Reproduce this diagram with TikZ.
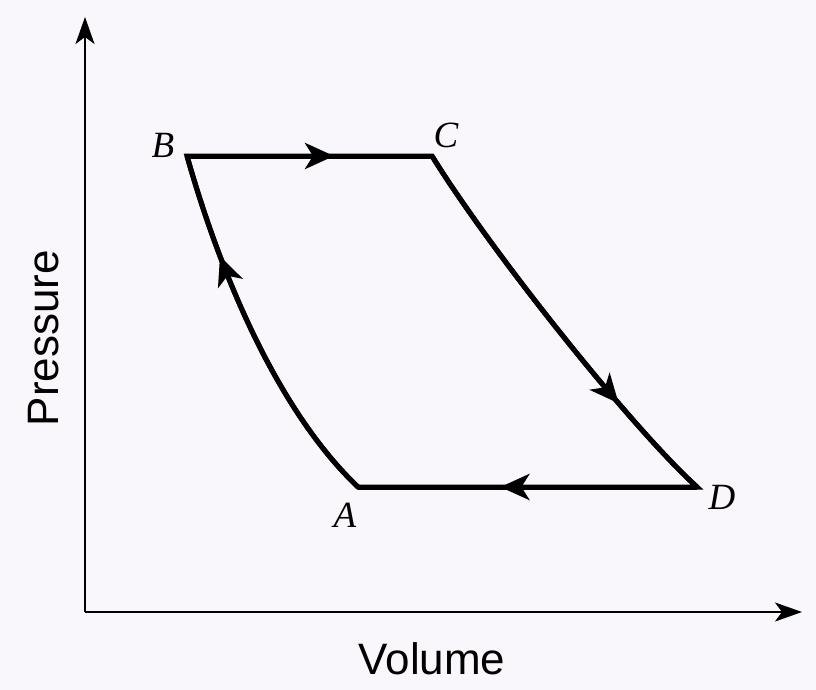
\documentclass[tikz,border=0pt]{standalone}
\usepackage{fontspec}
\setmainfont{Liberation Serif}
\setsansfont{Liberation Sans}
\usetikzlibrary{arrows.meta,decorations.markings}
\definecolor{bgc}{RGB}{249,247,251}
\tikzset{
  cycleline/.style={line width=5pt, black},
  axisline/.style={line width=2pt, black, -{Stealth[length=27pt,width=19pt,inset=7pt]}},
  midarrow/.style={postaction={decorate}, decoration={markings,
      mark=at position #1 with {\arrow{Stealth[length=29pt,width=26pt,inset=8pt]}}}},
  ptlabel/.style={font=\itshape\fontsize{37}{40}\selectfont, inner sep=0pt},
  axlabel/.style={font=\sffamily\fontsize{44}{48}\selectfont, inner sep=0pt}
}
\begin{document}
\begin{tikzpicture}[x=1pt,y=-1pt]
\fill[bgc] (0,0) rectangle (816,690);
\useasboundingbox (0,0) rectangle (816,690);
% axes
\coordinate (O) at (85,612);
\coordinate (Ytop) at (85,17);
\coordinate (Xend) at (802,612);
\draw[axisline] (O) -- (Ytop);
\draw[axisline] (O) -- (Xend);
% cycle points
\coordinate (A) at (358,487);
\coordinate (B) at (187,156);
\coordinate (C) at (432,156);
\coordinate (D) at (697,487);
% closed cycle
\draw[cycleline, line join=miter] (A) .. controls (278,411) and (221,276) .. (B)
  -- (C) .. controls (490,250) and (631,427) .. (D) -- cycle;
% direction arrows
\draw[cycleline, midarrow=0.72] (A) .. controls (278,411) and (221,276) .. (B);
\draw[cycleline, midarrow=0.6] (B) -- (C);
\draw[cycleline, midarrow=0.73] (C) .. controls (490,250) and (631,427) .. (D);
\draw[cycleline, midarrow=0.58] (D) -- (A);
% labels
\node[ptlabel] (lA) at (345,515) {A};
\node[ptlabel] (lB) at (163,145) {B};
\node[ptlabel] (lC) at (446,135) {C};
\node[ptlabel] (lD) at (722,497) {D};
\node[axlabel, rotate=90] (lP) at (44,338) {Pressure};
\node[axlabel] (lV) at (432,659) {Volume};
\end{tikzpicture}
\end{document}
